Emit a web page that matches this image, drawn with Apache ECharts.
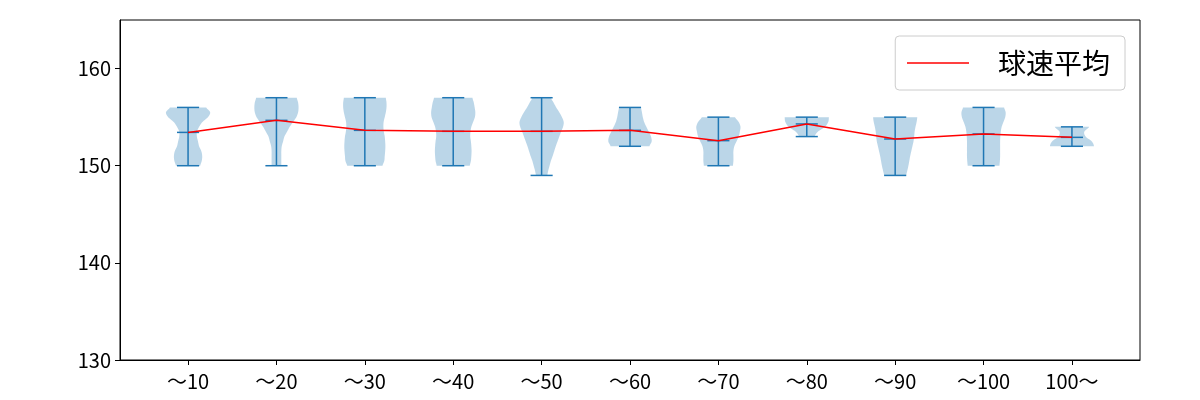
<!DOCTYPE html>
<html>
<head>
<meta charset="utf-8">
<script src="https://cdn.jsdelivr.net/npm/echarts@6/dist/echarts.min.js"></script>
<style>html,body{margin:0;padding:0;background:#fff}#c{width:1200px;height:400px}</style>
</head>
<body>
<div id="c"></div>
<script>
// categories and tick labels
const categories = ['～10','～20','～30','～40','～50','～60','～70','～80','～90','～100','100～'];
const yTicks = [130, 140, 150, 160];
// per-category extremes and mean (km/h)
const vMin  = [150, 150, 150, 150, 149, 152, 150, 153, 149, 150, 152];
const vMax  = [156, 157, 157, 157, 157, 156, 155, 155, 155, 156, 154];
const vMean = [153.43, 154.67, 153.64, 153.54, 153.54, 153.64, 152.58, 154.3, 152.75, 153.27, 152.92];
// violin density profiles (relative half-widths), sampled every 0.5 km/h from vMin to vMax
const dens1  = [0.55,0.62,0.64,0.6,0.5,0.45,0.4,0.4,0.5,0.65,0.9,1.0,0.82];
const dens2  = [0.22,0.22,0.22,0.22,0.24,0.3,0.36,0.48,0.6,0.75,0.9,0.98,1.0,0.98,0.92];
const dens3  = [0.8,0.88,0.9,0.92,0.93,0.92,0.9,0.86,0.84,0.85,0.9,0.95,0.98,0.98,0.95];
const dens4  = [0.75,0.8,0.82,0.83,0.82,0.8,0.77,0.78,0.82,0.9,0.98,1.0,0.97,0.93,0.87];
const dens5  = [0.26,0.3,0.36,0.42,0.5,0.57,0.64,0.72,0.8,0.88,0.97,1.0,0.92,0.8,0.66,0.54,0.42];
const dens6  = [0.88,0.98,0.95,0.85,0.74,0.64,0.58,0.54,0.5];
const dens7  = [0.66,0.68,0.68,0.68,0.72,0.82,0.92,0.97,1.0,0.92,0.75];
const dens8  = [0.35,0.5,0.82,0.97,1.0];
const dens9  = [0.5,0.55,0.6,0.64,0.68,0.73,0.78,0.83,0.86,0.88,0.92,0.97,1.0];
const dens10 = [0.72,0.74,0.75,0.75,0.75,0.75,0.76,0.78,0.82,0.9,0.98,1.0,0.93];
const dens11 = [1.0,0.9,0.62,0.56,0.78];
const densities = [dens1,dens2,dens3,dens4,dens5,dens6,dens7,dens8,dens9,dens10,dens11];
const densStep = 0.5;

const positions = categories.map((_, i) => i + 1);
const BLUE = '#1f77b4';
const HALF = 0.25;   // violin half width in x units
const CAP = 0.125;   // cap half width

function smoothProfile(d) {
  // Catmull-Rom resampling of the profile for drawing
  const out = [];
  const n = d.length;
  const sub = 8;
  for (let k = 0; k < n - 1; k++) {
    const p0 = d[Math.max(0, k - 1)], p1 = d[k], p2 = d[k + 1], p3 = d[Math.min(n - 1, k + 2)];
    for (let s = 0; s < sub; s++) {
      const t = s / sub, t2 = t * t, t3 = t2 * t;
      const v = 0.5 * ((2 * p1) + (-p0 + p2) * t + (2 * p0 - 5 * p1 + 4 * p2 - p3) * t2 + (-p0 + 3 * p1 - 3 * p2 + p3) * t3);
      out.push([k + t, Math.max(0, v)]);
    }
  }
  out.push([n - 1, d[n - 1]]);
  return out;
}

const violinData = positions.map((p, i) => [p, vMin[i], vMax[i], vMean[i]]);

const chart = echarts.init(document.getElementById('c'), null, { renderer: 'canvas' });
chart.setOption({
  animation: false,
  backgroundColor: '#fff',
  textStyle: { fontFamily: 'Noto Sans CJK JP' },
  grid: { left: 120, right: 60, top: 20, bottom: 40, show: true, borderColor: '#000', borderWidth: 1, backgroundColor: 'transparent' },
  legend: {
    data: ['球速平均'],
    right: 75, top: 36,
    orient: 'vertical',
    backgroundColor: '#fff',
    borderColor: '#cccccc', borderWidth: 1, borderRadius: 4,
    padding: [13, 15, 13, 11],
    itemWidth: 62, itemHeight: 14,
    itemStyle: { opacity: 0 },
    lineStyle: { width: 1.5 },
    textStyle: { fontSize: 28, color: '#000', fontFamily: 'Noto Sans CJK JP', padding: [0, 0, 0, 24] }
  },
  xAxis: {
    type: 'value', min: 0.23, max: 11.77,
    splitLine: { show: false },
    axisLine: { show: true, lineStyle: { color: '#000', width: 1 } },
    axisTick: { show: true, customValues: positions, length: 5, lineStyle: { color: '#000' } },
    axisLabel: { customValues: positions, color: '#000', fontSize: 20, margin: 11,
      formatter: v => categories[Math.round(v) - 1] || '' }
  },
  yAxis: {
    type: 'value', min: 130, max: 165,
    splitLine: { show: false },
    axisLine: { show: true, lineStyle: { color: '#000', width: 1 } },
    axisTick: { show: true, customValues: yTicks, length: 5, lineStyle: { color: '#000' } },
    axisLabel: { customValues: yTicks, color: '#000', fontSize: 20, margin: 9 }
  },
  series: [
    {
      type: 'custom',
      name: 'violin',
      data: violinData,
      encode: { x: 0, y: [1, 2] },
      z: 2,
      renderItem: function (params, api) {
        const i = params.dataIndex;
        const pos = api.value(0), lo = api.value(1), hi = api.value(2), mean = api.value(3);
        const prof = smoothProfile(densities[i]);
        const right = prof.map(([k, w]) => api.coord([pos + w * HALF, lo + k * densStep]));
        const left = prof.slice().reverse().map(([k, w]) => api.coord([pos - w * HALF, lo + k * densStep]));
        const pts = right.concat(left);
        const c = (x, y) => api.coord([x, y]);
        const ls = { stroke: BLUE, lineWidth: 1.5 };
        const line = (a, b) => ({ type: 'line', shape: { x1: a[0], y1: a[1], x2: b[0], y2: b[1] }, style: ls });
        return {
          type: 'group',
          children: [
            { type: 'polygon', shape: { points: pts }, style: { fill: 'rgba(31,119,180,0.3)', stroke: null } },
            line(c(pos, lo), c(pos, hi)),
            line(c(pos - CAP, lo), c(pos + CAP, lo)),
            line(c(pos - CAP, hi), c(pos + CAP, hi)),
            line(c(pos - CAP, mean), c(pos + CAP, mean))
          ]
        };
      }
    },
    {
      type: 'line',
      name: '球速平均',
      data: positions.map((p, i) => [p, vMean[i]]),
      symbol: 'none',
      z: 5,
      lineStyle: { color: '#ff0000', width: 1.5 },
      itemStyle: { color: '#ff0000' }
    }
  ]
});
</script>
</body>
</html>
